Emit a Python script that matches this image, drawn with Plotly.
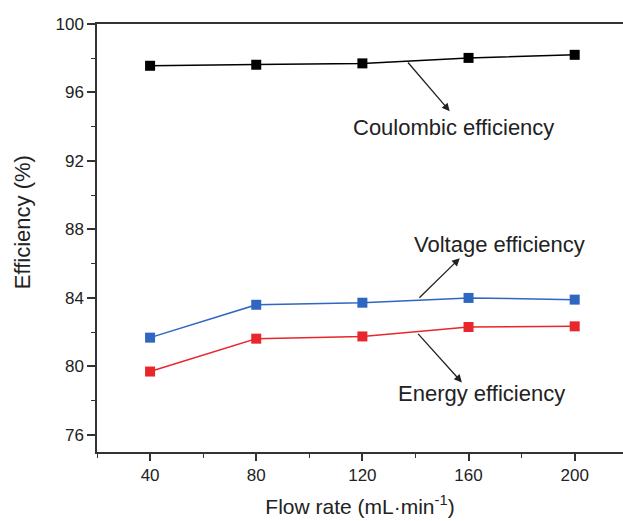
import plotly.graph_objects as go

flow_rate = [40, 80, 120, 160, 200]
coulombic = [97.56, 97.62, 97.70, 98.02, 98.20]
voltage = [81.68, 83.60, 83.72, 84.00, 83.90]
energy = [79.70, 81.62, 81.75, 82.30, 82.34]

x_ticks = [40, 80, 120, 160, 200]
y_ticks = [76, 80, 84, 88, 92, 96, 100]

FONT = "Liberation Sans, Arial, sans-serif"

fig = go.Figure()
series = [
    ("Coulombic efficiency", coulombic, "#000000"),
    ("Voltage efficiency", voltage, "#2F66C2"),
    ("Energy efficiency", energy, "#E8262B"),
]
for name, vals, col in series:
    fig.add_trace(go.Scatter(
        x=flow_rate, y=vals, mode="lines+markers", name=name,
        line=dict(color=col, width=1.5),
        marker=dict(symbol="square", size=10, color=col),
        showlegend=False,
    ))

# arrows: (tail_x, tail_y, head_x, head_y)
arrows = [
    (136.7, 97.84, 152.9, 94.91),
    (140.9, 83.92, 156.7, 86.32),
    (140.5, 81.99, 157.5, 79.06),
]
for tx, ty, hx, hy in arrows:
    fig.add_annotation(x=hx, y=hy, ax=tx, ay=ty, xref="x", yref="y",
                       axref="x", ayref="y", text="", showarrow=True,
                       arrowhead=2, arrowsize=1.2, arrowwidth=1.3,
                       arrowcolor="#222222")

labels = [
    ("Coulombic efficiency", 154.3, 93.98),
    ("Voltage efficiency", 171.8, 87.13),
    ("Energy efficiency", 164.9, 78.40),
]
for txt, lx, ly in labels:
    fig.add_annotation(x=lx, y=ly, xref="x", yref="y", text=txt,
                       showarrow=False, font=dict(family=FONT, size=22, color="#222222"))

# y-axis title
fig.add_annotation(x=-0.1426, y=0.537, xref="paper", yref="paper",
                   text="Efficiency (%)", textangle=-90, showarrow=False,
                   xanchor="center", yanchor="middle",
                   font=dict(family=FONT, size=22, color="#222222"))

fig.update_layout(
    width=623, height=521,
    margin=dict(l=97, r=0, t=24, b=69),
    paper_bgcolor="white", plot_bgcolor="white",
    font=dict(family=FONT, size=17, color="#222222"),
)
fig.update_xaxes(
    range=[20, 218.2], tickvals=x_ticks, ticktext=[str(v) for v in x_ticks],
    showgrid=False, zeroline=False, showline=True, linecolor="#333333", linewidth=1.5,
    mirror=True, ticks="outside", ticklen=7, tickwidth=1.5, tickcolor="#333333",
    minor=dict(dtick=20, tick0=0, ticks="outside", ticklen=4, tickwidth=1.2, tickcolor="#333333"),
    title=dict(text="Flow rate (mL·min<sup>-1</sup>)", font=dict(size=21), standoff=15),
    tickfont=dict(size=17),
)
fig.update_yaxes(
    range=[75, 100], tickvals=y_ticks, ticktext=[str(v) for v in y_ticks],
    showgrid=False, zeroline=False, showline=True, linecolor="#333333", linewidth=1.5,
    ticks="outside", ticklen=8, tickwidth=1.5, tickcolor="#333333",
    minor=dict(dtick=2, tick0=0, ticks="outside", ticklen=4, tickwidth=1.2, tickcolor="#333333"),
    tickfont=dict(size=17),
)

fig.write_html("out.html")
